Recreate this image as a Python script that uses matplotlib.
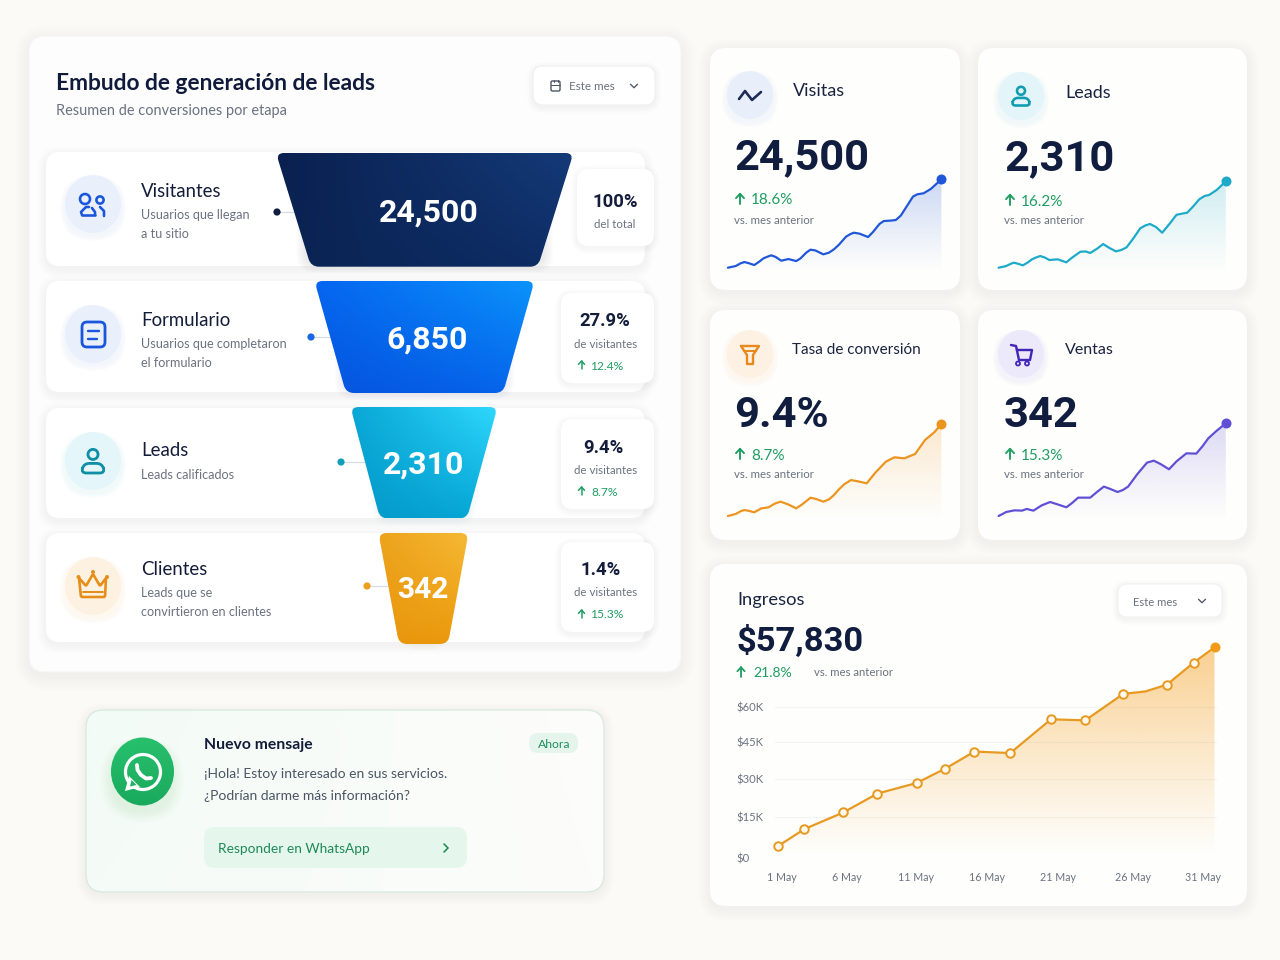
import numpy as np
import matplotlib
matplotlib.use("Agg")
import matplotlib.pyplot as plt
from matplotlib.patches import FancyBboxPatch, Circle, Ellipse, PathPatch, Polygon
from matplotlib.path import Path
from matplotlib.colors import to_rgb

# ---------- data ----------
visitas_dias = [1, 2.1, 2.8, 3.3, 3.9, 4.7, 5.4, 6, 6.6, 7.1, 7.7, 8.5, 9.5, 10.6, 11.2, 12, 12.6, 13.3, 14.4, 15.2, 15.9, 16.6, 17.6, 18.2, 18.7, 19.5, 20.7, 21.4, 22.3, 22.9, 23.9, 24.6, 25.3, 27, 27.6, 28.5, 29.5, 31]
visitas_vals = [0, 1.9, 5, 6.4, 5.2, 3, 6.8, 10.6, 12.6, 14, 12.2, 7.9, 9.8, 7.5, 10.5, 17, 20.4, 19.5, 15.1, 17, 20.8, 26, 35.1, 38, 39.6, 38.5, 34.7, 40.5, 49.5, 52.8, 53.3, 54, 59, 80.4, 83, 84.2, 89, 100]
leads_dias = [1, 2, 2.6, 3, 3.6, 4.2, 4.9, 5.4, 6, 6.5, 7.1, 7.7, 8.8, 9.95, 10.6, 11.8, 12.5, 13.1, 14, 14.8, 15.6, 16.5, 17.2, 17.9, 18.8, 19.7, 20.4, 21, 21.8, 22.6, 23.5, 24.5, 25.2, 25.9, 26.7, 27.5, 28.2, 28.8, 29.8, 31]
leads_vals = [0, 1.9, 4.5, 5.8, 4.5, 2.7, 6.3, 9.7, 12, 13.5, 11.8, 8.9, 9.7, 6.2, 11, 18.5, 18.8, 17, 22, 27.4, 23, 18.9, 20.5, 23.6, 34, 45.6, 49, 50.6, 47, 40.5, 50, 61.3, 62.5, 63.7, 71, 79.2, 83, 84.2, 90, 100]
conv_dias = [1, 2.1, 2.8, 3.3, 4, 4.7, 5.7, 6.7, 7.6, 8.4, 9.5, 10.6, 11.5, 12.6, 13.4, 14.4, 15.2, 15.9, 16.6, 17.4, 18.3, 19.4, 20.5, 21.7, 23.2, 24.4, 25.8, 27.3, 28.7, 30, 31]
conv_vals = [0, 2.2, 5.2, 6.5, 5.5, 4, 8.3, 9.4, 13.5, 15.6, 12.5, 8.3, 13, 19.9, 18.5, 15.6, 18, 22.8, 29, 34.8, 39.1, 37.5, 35.5, 47, 59.1, 63.8, 62.7, 67.4, 82.6, 91, 100]
ventas_dias = [1, 2, 3.1, 4.1, 4.7, 5.6, 6.7, 7.8, 8.8, 9.95, 10.7, 11.5, 13.1, 14, 14.9, 15.8, 16.7, 17.4, 18.1, 19.3, 20.6, 21.5, 22.4, 23.5, 24.5, 25.8, 27.1, 27.9, 28.7, 29.8, 31]
ventas_vals = [0, 4.3, 6.1, 5.8, 7.6, 5.8, 11.5, 15.1, 12.5, 9.4, 14, 19.8, 19.8, 26, 31.7, 29, 25.9, 28, 31.7, 45, 57.6, 59.7, 56, 50.4, 59, 67.6, 67.3, 75, 83.9, 92, 100]

ingresos_dias = [1, 2.85, 5.52, 7.86, 10.55, 12.51, 14.52, 16.98, 19.77, 22.13, 24.73, 26.27, 27.74, 29.56, 31]
ingresos_k = [4.6, 11.5, 18.1, 25.6, 29.8, 35.5, 42.3, 41.7, 55.1, 54.7, 65.2, 66.2, 68.9, 77.6, 83.7]
ingresos_y_labels = ["$0", "$15K", "$30K", "$45K", "$60K"]
ingresos_x_labels = ["1 May", "6 May", "11 May", "16 May", "21 May", "26 May", "31 May"]

etapas = ["Visitantes", "Formulario", "Leads", "Clientes"]
etapas_valor = ["24,500", "6,850", "2,310", "342"]
etapas_pct = ["100%", "27.9%", "9.4%", "1.4%"]
etapas_delta = [None, "12.4%", "8.7%", "15.3%"]

# ---------- canvas ----------
W, H = 1280, 960
FONT = "Lato"
NUM = ["Roboto", "Lato"]
plt.rcParams["font.family"] = [FONT, "DejaVu Sans"]
fig = plt.figure(figsize=(W / 100, H / 100), dpi=100, facecolor="#FBFAF7")
bg = fig.add_axes([0, 0, 1, 1])
bg.set_xlim(0, W)
bg.set_ylim(H, 0)
bg.axis("off")

NAVY = "#101D3F"
GRAY = "#6B7280"
GREEN = "#1F9D63"


def rrect(x0, y0, x1, y1, r, fc, ec="none", lw=0, z=2):
    p = FancyBboxPatch((x0, y0), x1 - x0, y1 - y0, boxstyle=f"round,pad=0,rounding_size={r}",
                       fc=fc, ec=ec, lw=lw, zorder=z)
    bg.add_patch(p)
    return p


def shadow(x0, y0, x1, y1, r, color="#8090B0", alpha=0.10, blur=14, dy=5, z=1.5, n=10):
    for i in range(n):
        g = blur * (1 - i / n)
        p = FancyBboxPatch((x0 - g, y0 - g + dy), x1 - x0 + 2 * g, y1 - y0 + 2 * g,
                           boxstyle=f"round,pad=0,rounding_size={r + g}",
                           fc=color, ec="none", alpha=alpha / n, zorder=z)
        bg.add_patch(p)


def T(x, y, s, px, color=NAVY, weight="normal", ha="left", z=8, family=None):
    t = bg.text(x, y, s, fontsize=px * 0.72, color=color, fontweight=weight, ha=ha,
                va="center_baseline", zorder=z)
    if family:
        t.set_family(family)
    return t


def rounded_poly(pts, r):
    verts, codes = [], []
    n = len(pts)
    for i in range(n):
        p = np.array(pts[i], float)
        a = np.array(pts[i - 1], float)
        b = np.array(pts[(i + 1) % n], float)
        ua = (a - p) / np.linalg.norm(a - p)
        ub = (b - p) / np.linalg.norm(b - p)
        s = p + ua * r
        e = p + ub * r
        verts.append(s)
        codes.append(Path.MOVETO if i == 0 else Path.LINETO)
        verts += [p, e]
        codes += [Path.CURVE3, Path.CURVE3]
    verts.append(verts[0])
    codes.append(Path.CLOSEPOLY)
    return Path(verts, codes)


def grad_path(path, ext, tl, tr, bl, br, z=4):
    n = 48
    u, v = np.meshgrid(np.linspace(0, 1, n), np.linspace(0, 1, n))
    img = np.zeros((n, n, 3))
    for k in range(3):
        img[..., k] = ((1 - u) * (1 - v) * to_rgb(tl)[k] + u * (1 - v) * to_rgb(tr)[k]
                       + (1 - u) * v * to_rgb(bl)[k] + u * v * to_rgb(br)[k])
    im = bg.imshow(img, extent=ext, origin="upper", aspect="auto", interpolation="bilinear", zorder=z)
    im.set_clip_path(PathPatch(path, transform=bg.transData))
    bg.set_xlim(0, W)
    bg.set_ylim(H, 0)


def stroke(pts, color, lw=2.0, z=7, closed=False):
    xs, ys = zip(*pts)
    if closed:
        xs = xs + xs[:1]
        ys = ys + ys[:1]
    bg.plot(xs, ys, color=color, lw=lw * 0.72, solid_capstyle="round", solid_joinstyle="round", zorder=z)


def ring(cx, cy, r, color, lw=2.0, z=7, fc="none"):
    bg.add_patch(Circle((cx, cy), r, fc=fc, ec=color, lw=lw * 0.72, zorder=z))


def up_arrow(cx, cy, color=GREEN, h=10, lw=1.8):
    stroke([(cx, cy + h / 2), (cx, cy - h / 2)], color, lw)
    stroke([(cx - h * 0.38, cy - h * 0.08), (cx, cy - h / 2), (cx + h * 0.38, cy - h * 0.08)], color, lw)


def chevron_down(cx, cy, color="#4B5563", s=3.5):
    stroke([(cx - s, cy - s / 2), (cx, cy + s / 2), (cx + s, cy - s / 2)], color, 1.3)


def person(cx, cy, s, color, lw=2.4):
    ring(cx, cy - 0.55 * s, 0.42 * s, color, lw)
    body = rounded_poly([(cx - s, cy + s), (cx - 0.75 * s, cy + 0.2 * s), (cx + 0.75 * s, cy + 0.2 * s), (cx + s, cy + s)], 0.45 * s)
    bg.add_patch(PathPatch(body, fc="none", ec=color, lw=lw * 0.72, zorder=7))


def icon_bubble(cx, cy, r, fc):
    shadow(cx - r, cy - r, cx + r, cy + r, r, color=fc, alpha=0.55, blur=5, dy=4, z=2.6, n=6)
    bg.add_patch(Ellipse((cx, cy), 2 * r, 2 * r + 2, fc=fc, ec="none", zorder=3))


# ---------- left panel ----------
shadow(29, 36, 681, 672, 18, alpha=0.06, blur=14, dy=4)
rrect(29, 36, 681, 672, 16, "#FDFDFD", ec="#F5F5F5", lw=0.8)
T(56, 81, "Embudo de generación de leads", 22.8, "#101B3B", "bold")
T(56, 109, "Resumen de conversiones por etapa", 14.5, GRAY)

shadow(533, 66, 655, 105, 10, alpha=0.07, blur=6, dy=2, z=2.2)
rrect(533, 66, 655, 105, 10, "#FFFFFF", ec="#EEF0F2", lw=0.8, z=2.4)
rrect(551, 81, 560, 91, 1.5, "none", ec="#4B5563", lw=1.0, z=7)
stroke([(551, 84.5), (560, 84.5)], "#4B5563", 1.0)
stroke([(553.5, 79.5), (553.5, 82)], "#4B5563", 1.0)
stroke([(557.5, 79.5), (557.5, 82)], "#4B5563", 1.0)
T(569, 86, "Este mes", 11.6, "#6B7280")
chevron_down(634, 86)

row_boxes = [(46, 152, 645, 266), (46, 281, 645, 392), (46, 408, 645, 518), (46, 533, 645, 642)]
funnels = [
    [(276, 153), (573.5, 153), (538, 266.7), (311, 266.7)],
    [(314.5, 281), (534.5, 281), (503, 393), (346, 393)],
    [(350.5, 407), (497.5, 407), (467, 518.5), (380, 518.5)],
    [(378.5, 533), (468.5, 533), (448, 644), (399, 644)],
]
funnel_cols = [
    ("#0A2050", "#143A78", "#0A2352", "#0E2D66"),
    ("#0566F0", "#0B93FB", "#0553DD", "#0566EC"),
    ("#09A8D6", "#2FD8FD", "#0498C8", "#06A9D8"),
    ("#EDA31C", "#F6B935", "#E8960E", "#EB9A0B"),
]
funnel_num = [(428.5, 210), (427, 337), (424, 462), (422.5, 587)]
funnel_px = [32, 32, 32, 30]
pills = [(577, 169, 654, 246), (561, 293, 654, 383), (561, 419, 654, 509), (561, 542, 654, 632)]
pct_xy = [(615, 200), (605, 319), (603, 446), (601, 568)]
sub_y = [223, 343, 469, 592]
delta_y = [None, 365, 491, 614]
delta_x = [None, 591, 591, 591]
bubbles = [(93, 204, "#E9F0FC"), (93, 334, "#E9F0FC"), (93, 461, "#E4F6F9"), (93, 586, "#FDF2E1")]
dots = [(277, 212, 300, "#101D3F"), (311, 337, 330, "#1B66E6"), (341, 462, 365, "#129DB8"), (367, 586, 390, "#EE9F1C")]
name_xy = [(141, 190), (141, 319), (141, 449), (141, 568)]
descs = [["Usuarios que llegan", "a tu sitio"], ["Usuarios que completaron", "el formulario"],
         ["Leads calificados"], ["Leads que se", "convirtieron en clientes"]]
desc_y = [[214, 233], [343, 362], [474], [592, 611]]

for i in range(4):
    x0, y0, x1, y1 = row_boxes[i]
    shadow(x0, y0, x1, y1, 14, alpha=0.05, blur=9, dy=3, z=2.1)
    rrect(x0, y0, x1, y1, 14, "#FFFFFF", z=2.5)
    cx, cy, c = bubbles[i]
    icon_bubble(cx, cy, 28, c)
    T(*name_xy[i], etapas[i], 18.7, "#131D3A")
    for s, y in zip(descs[i], desc_y[i]):
        T(141, y, s, 12.6, GRAY)
    dx, dy_, ex, dc = dots[i]
    stroke([(dx, dy_), (ex, dy_)], "#D6DAE3", 1.2, z=3)
    bg.add_patch(Circle((dx, dy_), 3.6, fc=dc, ec="none", zorder=3.5))
    pts = funnels[i]
    xs = [p[0] for p in pts]
    ys = [p[1] for p in pts]
    path = rounded_poly(pts, 8)
    fc = funnel_cols[i]
    shadow(min(xs) + 30, min(ys) + 8, max(xs) - 30, max(ys) - 6, 10, color=fc[2], alpha=0.08, blur=10, dy=3, z=3.2)
    grad_path(path, (min(xs), max(xs), max(ys), min(ys)), *fc)
    T(*funnel_num[i], etapas_valor[i], funnel_px[i], "#FFFFFF", "bold", ha="center", family=NUM)
    px0, py0, px1, py1 = pills[i]
    shadow(px0, py0, px1, py1, 12, alpha=0.06, blur=6, dy=2, z=4.5)
    rrect(px0, py0, px1, py1, 12, "#FFFFFF", z=5)
    T(*pct_xy[i], etapas_pct[i], 18.5, "#131D3A", "bold", ha="center", family=NUM)
    T(606 if i else 615, sub_y[i], "de visitantes" if i else "del total", 11.5, GRAY, ha="center")
    if etapas_delta[i]:
        up_arrow(581.5, delta_y[i], GREEN, 8, 1.5)
        T(delta_x[i], delta_y[i], etapas_delta[i], 12, GREEN)

# row icons
B = "#1A56DB"
ring(85, 199, 5, B, 2.6)
ring(100, 200, 3.6, B, 2.6)
stroke([(82, 215), (81, 212), (86, 207), (89, 207)], B, 2.6)
stroke([(82, 215), (95, 215)], B, 2.6)
stroke([(95, 215), (95, 212), (92, 208)], B, 2.6)
stroke([(100, 207), (104, 211), (104, 216)], B, 2.6)
rrect(82, 322, 105, 347, 5, "none", ec=B, lw=2.0, z=7)
stroke([(88, 331), (99, 331)], B, 2.4)
stroke([(88, 339), (97, 339)], B, 2.4)
person(93, 461, 12, "#0F8FA5", 2.8)
O = "#E58F1A"
crown = rounded_poly([(81, 597), (79, 578), (86, 586), (93, 574), (100, 586), (106, 578), (105, 597)], 1.5)
bg.add_patch(PathPatch(crown, fc="none", ec=O, lw=1.9, zorder=7))
stroke([(83, 592), (103, 592)], O, 2)
for cxy in [(93, 572), (78.5, 577), (107, 577)]:
    bg.add_patch(Circle(cxy, 2, fc=O, ec="none", zorder=7))

# ---------- whatsapp card ----------
shadow(86, 710, 604, 892, 18, color="#90B0A0", alpha=0.04, blur=10, dy=3)
card = rounded_poly([(86, 710), (604, 710), (604, 892), (86, 892)], 18)
grad_path(card, (86, 604, 892, 710), "#F3FBF6", "#FDFDFB", "#F5FBF7", "#FCFDFB", z=2)
bg.add_patch(PathPatch(card, fc="none", ec="#D7E9DE", lw=0.9, zorder=2.2))
shadow(112, 740, 172, 802, 30, color="#22B062", alpha=0.09, blur=12, dy=9, z=2.5)
oval = Path.unit_circle()
oval = Path(oval.vertices * [31.5, 34] + [142.5, 771.5], oval.codes)
grad_path(oval, (110, 175, 806, 737), "#26C26E", "#28BE6C", "#18A95C", "#1CAA5E", z=3)
ring(143, 772, 17.5, "#FFFFFF", 3.2)
bg.add_patch(Polygon([(125, 791), (129, 776), (140, 787)], fc="#FFFFFF", ec="none", zorder=7))
bg.add_patch(Polygon([(130, 786.5), (131.5, 780), (136.5, 785)], fc="#1FB566", ec="none", zorder=7.2))
stroke([(137, 765), (137.5, 770), (141, 775), (146, 778.5), (151, 778)], "#FFFFFF", 3.8, z=7.5)
T(204, 744, "Nuevo mensaje", 15.8, "#131D3A", "bold")
rrect(529, 733, 578, 753, 9, "#E5F5EC", z=3)
T(554, 743, "Ahora", 12.2, "#1F8F5E", ha="center")
T(204, 773, "¡Hola! Estoy interesado en sus servicios.", 13.9, "#4B5563")
T(204, 795, "¿Podrían darme más información?", 13.9, "#4B5563")
rrect(204, 827, 467, 868, 11, "#E5F6EC", z=3)
T(218, 848, "Responder en WhatsApp", 13.7, "#1E8A58")
stroke([(444, 844), (448, 848), (444, 852)], "#1E8A58", 1.6)


# ---------- KPI cards ----------
def axes_px(x0, y0, x1, y1):
    ax = fig.add_axes([x0 / W, 1 - y1 / H, (x1 - x0) / W, (y1 - y0) / H])
    ax.patch.set_alpha(0)
    return ax


def area_gradient(ax, x, y, base, color, a_top, top):
    poly = ax.fill_between(x, y, base, color="none", lw=0)
    rgb = to_rgb(color)
    n = 128
    img = np.zeros((n, 1, 4))
    img[..., :3] = rgb
    img[..., 3] = (np.linspace(a_top, 0, n) ** 1.1)[:, None]
    im = ax.imshow(img, extent=(min(x), max(x), base, top), origin="upper", aspect="auto", zorder=1, interpolation="bilinear")
    im.set_clip_path(poly.get_paths()[0], ax.transData)


def spark(px0, px1, ptop, pbot, dias, vals, color, fill_alpha):
    m = 10
    ppx = (px1 - px0) / 30.0
    ppy = (pbot - ptop) / 100.0
    extra_bot = 6
    ax = axes_px(px0 - m, ptop - m, px1 + m, pbot + extra_bot)
    ax.plot(dias, vals, color=color, lw=2.2 * 0.72, solid_joinstyle="round", solid_capstyle="round", zorder=3)
    ax.plot([dias[-1]], [vals[-1]], "o", color=color, ms=10 * 0.72, mec="none", zorder=4, clip_on=False)
    area_gradient(ax, dias, vals, -extra_bot / ppy, color, fill_alpha, vals[-1])
    ax.set_xlim(1 - m / ppx, 31 + m / ppx)
    ax.set_ylim(-extra_bot / ppy, 100 + m / ppy)
    ax.axis("off")


kpis = [
    dict(box=(710, 48, 960, 290), bub=(750, 95, "#E9EFFA"), label="Visitas", lx=793, ly=90, lpx=18, val="24,500", vx=734, vy=153,
         d="18.6%", ax_=740, dx=751, dy=199, sy=219, sx=734),
    dict(box=(978, 48, 1247, 290), bub=(1021, 96, "#E3F5F9"), label="Leads", lx=1065, ly=91, lpx=18, val="2,310", vx=1004, vy=154,
         d="16.2%", ax_=1010, dx=1021, dy=200, sy=219, sx=1004),
    dict(box=(710, 310, 960, 540), bub=(750, 354, "#FDF1E3"), label="Tasa de conversión", lx=792, ly=348, lpx=15.3, val="9.4%", vx=734, vy=411,
         d="8.7%", ax_=740, dx=751, dy=454, sy=474, sx=734),
    dict(box=(978, 310, 1247, 540), bub=(1021, 354, "#ECE9FA"), label="Ventas", lx=1065, ly=349, lpx=16, val="342", vx=1004, vy=411,
         d="15.3%", ax_=1010, dx=1021, dy=454, sy=474, sx=1004),
]
for k in kpis:
    x0, y0, x1, y1 = k["box"]
    shadow(x0, y0, x1, y1, 16, alpha=0.045, blur=12, dy=3)
    rrect(x0, y0, x1, y1, 16, "#FEFEFC")
    icon_bubble(k["bub"][0], k["bub"][1], 23, k["bub"][2])
    T(k["lx"], k["ly"], k["label"], k["lpx"], "#1A2440")
    T(k["vx"], k["vy"], k["val"], 43.5, "#101D3F", "bold", family=NUM)
    up_arrow(k["ax_"], k["dy"], GREEN, 10.5, 1.9)
    T(k["dx"], k["dy"], k["d"], 15.2, GREEN)
    T(k["sx"], k["sy"], "vs. mes anterior", 11.5, GRAY)

# KPI icons
stroke([(739, 99), (745, 91), (752, 100), (761, 92)], "#1C2B57", 2.6)
person(1021, 96, 9.5, "#129CB0", 2.6)
F = "#E8891E"
stroke([(741, 346), (759, 346), (753, 355), (753, 364), (747, 364), (747, 355)], F, 2.4, closed=True)
stroke([(744, 351), (756, 351)], F, 2.0)
C = "#4326B8"
stroke([(1011, 345), (1016, 346), (1019, 360), (1030, 360), (1032, 350), (1017, 350)], C, 2.4)
ring(1018, 363.5, 2, C, 1.8)
ring(1027, 363.5, 2, C, 1.8)

spark(727.9, 941.4, 179.3, 267.7, visitas_dias, visitas_vals, "#2056D8", 0.26)
spark(998.6, 1225.8, 181.3, 267.7, leads_dias, leads_vals, "#1DAAC9", 0.24)
spark(727.9, 941.4, 424, 516, conv_dias, conv_vals, "#EC9420", 0.24)
spark(998.6, 1225.8, 423.3, 516, ventas_dias, ventas_vals, "#5F4FD6", 0.24)

# ---------- Ingresos ----------
shadow(710, 564, 1247, 906, 16, alpha=0.045, blur=12, dy=3)
rrect(710, 564, 1247, 906, 16, "#FEFEFC")
T(737, 599, "Ingresos", 18.4, "#1A2440")
T(736, 638, "$57,830", 34.5, "#101D3F", "bold", family=NUM)
up_arrow(741, 672, GREEN, 9.5, 1.8)
T(753, 672, "21.8%", 14, GREEN)
T(814, 672, "vs. mes anterior", 11.4, GRAY)
shadow(1118, 584, 1222, 617, 9, alpha=0.06, blur=6, dy=2, z=2.2)
rrect(1118, 584, 1222, 617, 9, "#FFFFFF", ec="#F0F1F2", lw=0.8, z=2.4)
T(1133, 601, "Este mes", 11.2, "#6B7280")
chevron_down(1202, 601)

px_left, px_right = 775, 1217
px_per_day = (1214.5 - 777.5) / 30
px_per_k = (858 - 707) / 60
ax = axes_px(px_left, 640, px_right, 858)
ax.set_xlim(1 - (777.5 - px_left) / px_per_day, 31 + (px_right - 1214.5) / px_per_day)
ax.set_ylim(0, (858 - 640) / px_per_k)
area_gradient(ax, ingresos_dias, ingresos_k, 0, "#F5A52E", 0.55, max(ingresos_k))
ax.plot(ingresos_dias, ingresos_k, color="#E8991F", lw=2.2 * 0.72, solid_joinstyle="round",
        marker="o", ms=8.5 * 0.72, mfc="#FFF9EE", mec="#E8991F", mew=1.4,
        markevery=[0, 1, 2, 3, 4, 5, 6, 7, 8, 9, 10, 12, 13], clip_on=False, zorder=3)
ax.plot([ingresos_dias[-1]], [ingresos_k[-1]], "o", color="#F09A18", ms=10 * 0.72, mec="none", clip_on=False, zorder=4)
for sp in ax.spines.values():
    sp.set_visible(False)
ax.set_yticks([0, 16.2, 31.3, 46, 60], ingresos_y_labels)
ax.set_xticks([1.3, 5.77, 10.5, 15.35, 20.26, 25.4, 30.2], ingresos_x_labels)
ax.tick_params(axis="x", length=0, labelsize=10.6 * 0.72, labelcolor="#6B7280", pad=14 * 0.72)
ax.tick_params(axis="y", length=0, labelsize=11.3 * 0.72, labelcolor="#6B7280", pad=(775 - 736) * 0.72)
for lab in ax.get_yticklabels():
    lab.set_ha("left")
ax.grid(axis="y", color="#F3F3F1", lw=0.8)
ax.set_axisbelow(True)

fig.savefig("out.png", dpi=100, facecolor=fig.get_facecolor())
